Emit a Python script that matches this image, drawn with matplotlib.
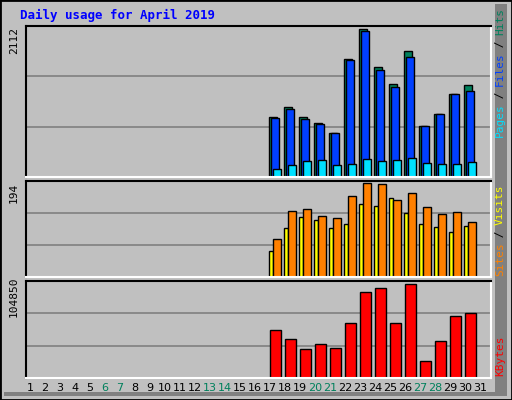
import matplotlib
matplotlib.use("Agg")
import matplotlib.pyplot as plt
from matplotlib.patches import Rectangle

days = list(range(1, 32))
active = list(range(17, 31))
hits = [859, 1003, 859, 773, 629, 1680, 2112, 1565, 1320, 1795, 730, 902, 1190, 1306]
files = [845, 974, 830, 758, 629, 1666, 2083, 1522, 1277, 1709, 730, 902, 1190, 1234]
pages = [110, 168, 226, 240, 168, 182, 254, 226, 240, 269, 197, 182, 182, 211]
visits = [78, 137, 141, 126, 122, 166, 193, 191, 158, 174, 145, 130, 134, 113]
sites = [53, 101, 124, 118, 101, 109, 151, 147, 162, 132, 109, 103, 92, 105]
kbytes = [53000, 43780, 32260, 38020, 33410, 61070, 95630, 100240, 61070, 104850, 18430, 41480, 69140, 72590]
weekends = [6, 7, 13, 14, 20, 21, 27, 28]

W, H = 512, 400
fig = plt.figure(figsize=(W/100, H/100), dpi=100)
fig.patch.set_facecolor("#C0C0C0")
BG = "#C0C0C0"

# outer bevel
fig.add_artist(Rectangle((0, 0), 1, 1, transform=fig.transFigure, fill=False, ec="black", lw=2))
fig.add_artist(Rectangle((495/W, 4/H), 12/W, 392/H, transform=fig.transFigure, color="#808080", lw=0))
fig.add_artist(Rectangle((4/W, 4/H), 503/W, 4/H, transform=fig.transFigure, color="#808080", lw=0))

def ax_at(top, bottom, left=26, right=491):
    return fig.add_axes([left/W, 1-bottom/H, (right-left)/W, (bottom-top)/H])

def style(ax, vmax):
    ax.set_facecolor(BG)
    ax.set_xlim(0.5, 31.5)
    ax.set_ylim(0, vmax)
    ax.set_xticks([]); ax.set_yticks([])
    for s in ["top", "left"]:
        ax.spines[s].set_color("black"); ax.spines[s].set_linewidth(1.5)
    for s in ["bottom", "right"]:
        ax.spines[s].set_color("white"); ax.spines[s].set_linewidth(1.5)
    for f in (1/3, 2/3):
        ax.axhline(vmax*f, color="#808080", lw=1.2, zorder=0)

u = 1/15
ax1 = ax_at(26, 177); m1 = 2112*1.02
style(ax1, m1)
ax1.bar([d - 5*u for d in active], hits, width=8*u, align="edge", color="#00805c", ec="black", lw=1)
ax1.bar([d - 3*u for d in active], files, width=8*u, align="edge", color="#0040ff", ec="black", lw=1)
ax1.bar([d - 1*u for d in active], pages, width=8*u, align="edge", color="#00e0ff", ec="black", lw=1)

ax2 = ax_at(181, 277); m2 = 194*1.02
style(ax2, m2)
ax2.bar([d - 5*u for d in active], sites, width=4*u, align="edge", color="#ffff00", ec="black", lw=1)
ax2.bar([d - 1*u for d in active], visits, width=8*u, align="edge", color="#ff8000", ec="black", lw=1)

ax3 = ax_at(281, 378); m3 = 104850*1.03
style(ax3, m3)
ax3.bar([d - 4*u for d in active], kbytes, width=11*u, align="edge", color="#ff0000", ec="black", lw=1)

mono = "DejaVu Sans Mono"
fig.text(20/W, 1-15/H, "Daily usage for April 2019", color="#0000ff", fontsize=9, fontweight="bold", family=mono, va="center")
fig.text(14/W, 1-40/H, "2112", rotation=90, fontsize=8, family=mono, ha="center", va="center")
fig.text(14/W, 1-193/H, "194", rotation=90, fontsize=8, family=mono, ha="center", va="center")
fig.text(14/W, 1-297/H, "104850", rotation=90, fontsize=8, family=mono, ha="center", va="center")

def vlabel(parts, ybottom):
    y = ybottom
    for txt, col in parts:
        t = fig.text(500/W, 1-y/H, txt, rotation=90, color=col, fontsize=8, family=mono, ha="center", va="bottom")
        y -= len(txt)*6.4
vlabel([("Pages", "#00e0ff"), (" / ", "black"), ("Files", "#0040ff"), (" / ", "black"), ("Hits", "#00805c")], 137)
vlabel([("Sites", "#ff8000"), (" / ", "black"), ("Visits", "#ffff00")], 276)
vlabel([("KBytes", "#ff0000")], 376)

for d in days:
    x = 30 + 15*(d-1)
    fig.text(x/W, 1-388/H, str(d), color="#00805c" if d in weekends else "black", fontsize=8, ha="center", va="center")

fig.savefig("out.png", dpi=100, facecolor=fig.get_facecolor())
